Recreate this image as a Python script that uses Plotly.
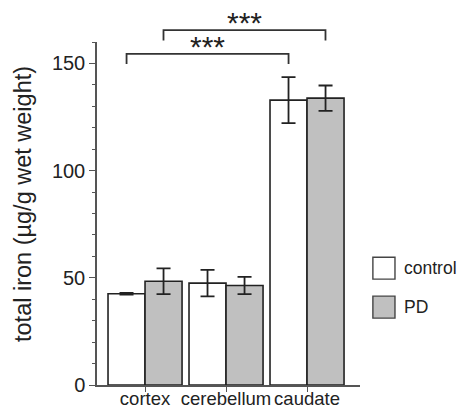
import plotly.graph_objects as go

regions = ["cortex", "cerebellum", "caudate"]
control_vals = [42.6, 47.5, 132.9]
control_err = [0.4, 6.2, 10.7]
pd_vals = [48.4, 46.4, 133.8]
pd_err = [6.0, 4.0, 5.9]
y_ticks = [0, 50, 100, 150]
# significance brackets: (left bar position, right bar position, height, label)
brackets = [(-0.228, 1.772, 154.5, "***"), (0.228, 2.228, 165.5, "***")]

FONT = "Liberation Sans, Arial, sans-serif"
EDGE = "#222222"
GRAY = "#c0c0c0"

fig = go.Figure()
fig.add_trace(go.Bar(
    x=regions, y=control_vals, name="control",
    marker=dict(color="white", line=dict(color=EDGE, width=1.6)),
    error_y=dict(type="data", array=control_err, color=EDGE, thickness=1.8, width=7),
))
fig.add_trace(go.Bar(
    x=regions, y=pd_vals, name="PD",
    marker=dict(color=GRAY, line=dict(color=EDGE, width=1.6)),
    error_y=dict(type="data", array=pd_err, color=EDGE, thickness=1.8, width=7),
))

YMAX = 160.0
for x0, x1, h, lab in brackets:
    yp = h / YMAX
    leg = 4.8 / YMAX
    fig.add_shape(type="path", xref="x", yref="paper",
                  path=f"M {x0},{yp - leg} L {x0},{yp} L {x1},{yp} L {x1},{yp - leg}",
                  line=dict(color="#333333", width=1.8))
    fig.add_annotation(x=(x0 + x1) / 2, y=yp + 3.6 / YMAX, xref="x", yref="paper",
                       text=lab, showarrow=False, xanchor="center", yanchor="middle",
                       font=dict(family=FONT, size=30, color="#222222"))

# manual legend
legend_items = [("control", "white", 0.3726, 0.3086), ("PD", GRAY, 0.2591, 0.1950)]
for name, col, ytop, ybot in legend_items:
    fig.add_shape(type="rect", xref="paper", yref="paper",
                  x0=1.049, x1=1.133, y0=ybot, y1=ytop,
                  fillcolor=col, line=dict(color="#444444", width=1.4))
    fig.add_annotation(x=1.158, y=(ytop + ybot) / 2, xref="paper", yref="paper",
                       text=name, showarrow=False, xanchor="left", yanchor="middle",
                       font=dict(family=FONT, size=17.5, color="#222222"))

fig.add_annotation(x=-0.281, y=0.528, xref="paper", yref="paper",
                   text="total iron (µg/g wet weight)", textangle=-90, showarrow=False,
                   xanchor="center", yanchor="middle",
                   font=dict(family=FONT, size=23.5, color="#222222"))

fig.update_layout(
    width=461, height=408,
    margin=dict(l=97, r=101, t=41.5, b=23),
    paper_bgcolor="white", plot_bgcolor="white",
    barmode="group", bargap=0.086, bargroupgap=0,
    showlegend=False,
    font=dict(family=FONT, color="#222222"),
)
fig.update_xaxes(
    range=[-0.593, 2.654], showline=True, linecolor="#555555", linewidth=1.5,
    ticks="outside", ticklen=5, tickcolor="#555555", automargin=False,
    ticklabelstandoff=-9,
    tickfont=dict(size=18.5, family=FONT, color="#222222"),
    showgrid=False, zeroline=False,
)
fig.update_yaxes(
    range=[0, YMAX], showline=True, linecolor="#555555", linewidth=1.5,
    tickmode="array", tickvals=y_ticks, automargin=False,
    ticks="outside", ticklen=6, tickcolor="#555555", tickwidth=1.2,
    minor=dict(tickmode="linear", tick0=0, dtick=10, ticks="outside", ticklen=3,
               tickcolor="#555555", tickwidth=1.2, showgrid=False),
    tickfont=dict(size=20, family=FONT, color="#222222"),
    showgrid=False, zeroline=False,
)

fig.write_html(
    "out.html",
    config={"displayModeBar": False},
    post_script="document.body.style.margin='0';document.body.style.overflow='hidden';",
)
